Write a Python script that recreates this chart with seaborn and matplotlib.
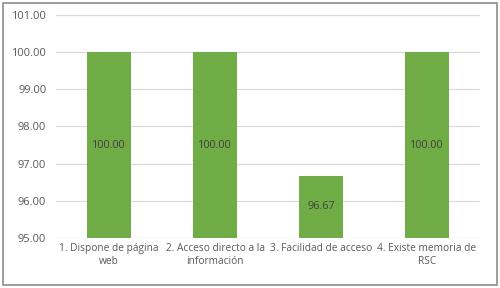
import matplotlib
matplotlib.use("Agg")
import matplotlib.pyplot as plt
import seaborn as sns
import pandas as pd
from matplotlib.patches import Rectangle

categories = ["1. Dispone de página\nweb", "2. Acceso directo a la\ninformación",
              "3. Facilidad de acceso", "4. Existe memoria de\nRSC"]
values = [100.00, 100.00, 96.67, 100.00]
yticks = [95, 96, 97, 98, 99, 100, 101]

sns.set_theme(style="white")
plt.rcParams['font.family'] = ['Open Sans', 'DejaVu Sans']

df = pd.DataFrame({"cat": categories, "val": values})

fig = plt.figure(figsize=(5.0, 2.88), dpi=100)
ax = fig.add_axes([0.112, 0.174, 0.848, 0.774])
sns.barplot(data=df, x="cat", y="val", color="#70ad47", saturation=1, width=0.41,
            linewidth=0, ax=ax, zorder=3)

ax.set_ylim(95, 101)
ax.set_yticks(yticks)
ax.set_yticklabels([f"{v:.2f}" for v in yticks], fontsize=8, color="#595959")
ax.set_xlim(-0.5, 3.5)
ax.tick_params(axis="x", labelsize=7.3, colors="#595959", length=0, pad=4)
ax.tick_params(axis="y", length=0, pad=7)
ax.set_xlabel("")
ax.set_ylabel("")
for s in ax.spines.values():
    s.set_visible(False)
ax.yaxis.grid(True, color="#d9d9d9", linewidth=0.9, zorder=0)
ax.set_axisbelow(True)

for i, v in enumerate(values):
    ax.text(i, (95 + v) / 2, f"{v:.2f}", ha="center", va="center", fontsize=7.8, color="#404040", zorder=4)

fig.patches.append(Rectangle((3 / 500, 3 / 288), 494 / 500, 282 / 288, transform=fig.transFigure,
                             fill=False, edgecolor="#8c8c8c", linewidth=1.2))

fig.savefig("out.png", dpi=100)
